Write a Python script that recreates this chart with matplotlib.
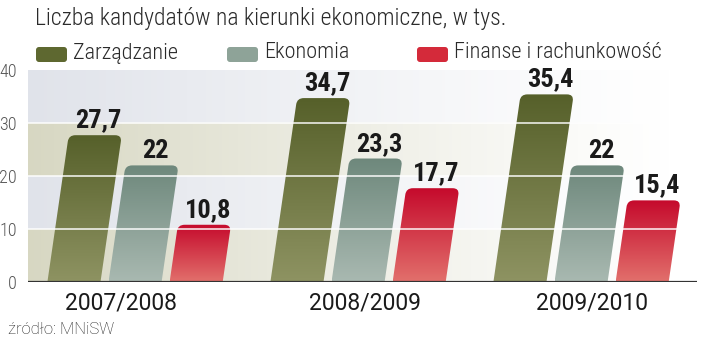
import numpy as np
import matplotlib
matplotlib.use('Agg')
import matplotlib.pyplot as plt
from matplotlib.path import Path
from matplotlib.patches import PathPatch, FancyBboxPatch
from matplotlib.colors import LinearSegmentedColormap, to_rgb

# Data: candidates for economic majors, thousands
years = ['2007/2008', '2008/2009', '2009/2010']
series = ['Zarządzanie', 'Ekonomia', 'Finanse i rachunkowość']
zarzadzanie = [27.7, 34.7, 35.4]
ekonomia = [22, 23.3, 22]
finanse = [10.8, 17.7, 15.4]

# top / bottom colours of each bar gradient, plus legend swatch colour
grad_top = ['#56602a', '#6e887c', '#c50a2c']
grad_bottom = ['#8e9362', '#a9b9b1', '#e2706c']
swatch = ['#5e6830', '#8ea398', '#d42a3a']

plt.rcParams['font.family'] = ['Roboto Condensed', 'DejaVu Sans']
wide = ['Roboto', 'DejaVu Sans']

fig = plt.figure(figsize=(7.2, 3.42), dpi=100)
ax = fig.add_axes([28 / 720, 60 / 342, 669 / 720, 212 / 342])
ax.set_xlim(-0.48, 2.52)
ax.set_ylim(0, 40)

# striped background fading out to the right
band_cols = ['#d7d7c2', '#e0e3ea', '#d7d7c2', '#e0e3ea']
for i, col in enumerate(band_cols):
    rgba = np.zeros((1, 200, 4))
    rgba[..., :3] = to_rgb(col)
    rgba[..., 3] = np.linspace(1, 0, 200) ** 1.2
    ax.imshow(rgba, extent=[-0.48, 2.42, i * 10, i * 10 + 10], aspect='auto', zorder=0)

width = 0.238
pitch = 0.274
slant = 0.00345   # horizontal lean per y unit
rx, ry = 0.03, 1.2


def slanted_bar(x0, h):
    s = slant * h
    verts = [(x0, 0), (x0 + width, 0),
             (x0 + width + slant * (h - ry), h - ry), (x0 + width + s, h), (x0 + width + s - rx, h),
             (x0 + s + rx, h), (x0 + s, h), (x0 + slant * (h - ry), h - ry),
             (x0, 0)]
    codes = [Path.MOVETO, Path.LINETO,
             Path.LINETO, Path.CURVE3, Path.CURVE3,
             Path.LINETO, Path.CURVE3, Path.CURVE3,
             Path.CLOSEPOLY]
    return Path(verts, codes)


grad = np.linspace(1, 0, 256).reshape(-1, 1)
for j, vals in enumerate([zarzadzanie, ekonomia, finanse]):
    cmap = LinearSegmentedColormap.from_list('g%d' % j, [grad_bottom[j], grad_top[j]])
    for i, v in enumerate(vals):
        x0 = i + (j - 1) * pitch - width / 2
        patch = PathPatch(slanted_bar(x0, v), facecolor='none', edgecolor='none', zorder=2)
        ax.add_patch(patch)
        im = ax.imshow(grad, cmap=cmap, extent=[x0, x0 + width + slant * v, 0, v],
                       aspect='auto', zorder=2)
        im.set_clip_path(patch)
        label = ('%g' % v).replace('.', ',')
        ax.annotate(label, (x0 + slant * v + width / 2 + 0.015, v), xytext=(0, 2),
                    textcoords='offset points', ha='center', va='bottom',
                    fontsize=19, fontweight='bold', color='#1a1a1a', zorder=4)

# white grid lines run over the bars
for g in [10, 20, 30]:
    ax.axhline(g, color='white', lw=1.4, alpha=0.75, zorder=3)
ax.axhline(0, color='#333333', lw=1.6, zorder=4)

ax.set_yticks([0, 10, 20, 30, 40])
ax.tick_params(axis='y', length=0, pad=8, labelsize=13, labelcolor='#555555')
for t in ax.get_yticklabels():
    t.set_fontweight('light')
ax.set_xticks([-0.063, 1.03, 2.05])
ax.set_xticklabels(years, fontsize=16.5, color='#1a1a1a', family=wide)
ax.tick_params(axis='x', length=0, pad=7)
for sp in ax.spines.values():
    sp.set_visible(False)

# title, legend and source in pixel coordinates
over = fig.add_axes([0, 0, 1, 1])
over.set_xlim(0, 720)
over.set_ylim(342, 0)
over.axis('off')
over.text(35, 18, 'Liczba kandydatów na kierunki ekonomiczne, w tys.', fontsize=17,
          fontweight='light', color='#2a2a2a', va='center', ha='left')
leg_x = [36, 227, 417]
for k, name in enumerate(series):
    over.add_patch(FancyBboxPatch((leg_x[k], 47), 31, 15,
                                  boxstyle='round,pad=0,rounding_size=3',
                                  facecolor=swatch[k], edgecolor='none'))
    over.text(leg_x[k] + 37, 53, name, fontsize=16, fontweight='light',
              color='#2a2a2a', va='center', ha='left')
over.text(8, 329, 'źródło: MNiSW', fontsize=12, fontweight='light', color='#222222',
          va='center', ha='left', family=wide)

fig.savefig('out.png', dpi=100)
